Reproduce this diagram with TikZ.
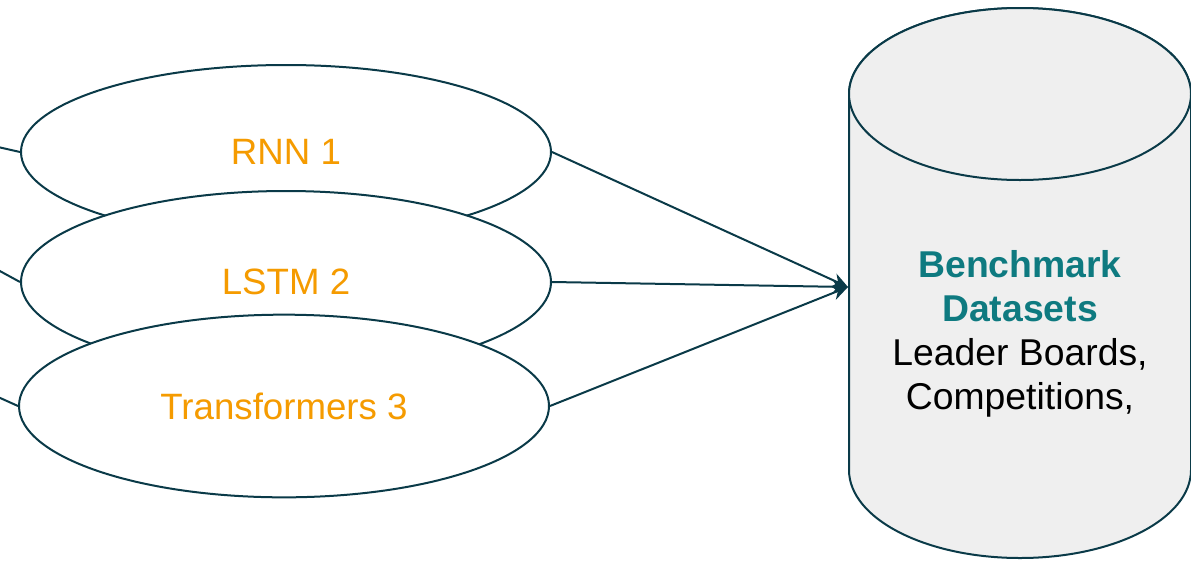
\documentclass[tikz,border=0pt]{standalone}
\usepackage{fontspec}
\setmainfont{Liberation Sans}
\usetikzlibrary{shapes.geometric,arrows.meta}
\definecolor{edgeteal}{RGB}{10,58,72}
\definecolor{modelorange}{RGB}{245,155,0}
\definecolor{headteal}{RGB}{14,122,128}
\definecolor{dbfill}{RGB}{239,239,239}
\tikzset{
  model/.style={ellipse, draw=edgeteal, line width=1.5pt, fill=white, inner sep=0pt,
    minimum width=397.5pt, minimum height=135pt, text=modelorange,
    font=\fontsize{27.5pt}{33pt}\selectfont},
  link/.style={draw=edgeteal, line width=1.5pt},
  feed/.style={link, -{Stealth[length=12pt,width=11pt]}},
  store/.style={fill=dbfill, draw=edgeteal, line width=1.5pt},
}
\begin{document}
\begin{tikzpicture}[x=0.75pt,y=-0.75pt]
  \useasboundingbox (0,0) rectangle (1191,561);

  % database cylinder (y grows downwards, so arcs run with negated angles)
  \path[store]
    (849,94) -- (849,470) arc[start angle=180, end angle=0, x radius=171, y radius=88]
    -- (1191,94) arc[start angle=0, end angle=-180, x radius=171, y radius=86] -- cycle;
  \path[store] (1020,94) ellipse[x radius=171, y radius=86];
  \node[align=center, font=\fontsize{28pt}{33pt}\selectfont] (db) at (1020,334)
    {\textcolor{headteal}{\textbf{Benchmark}}\\\textcolor{headteal}{\textbf{Datasets}}\\Leader Boards,\\Competitions,};
  \coordinate (dbin) at (848,287);

  % model ellipses, each drawn over the previous one
  \node[model, minimum height=130.5pt] (r1) at (286,152) {RNN 1};
  \node[model, minimum height=136.5pt] (r2) at (286,282) {LSTM 2};
  \node[model, minimum height=137pt] (r3) at (284,406) {Transformers 3};

  % incoming lines from the left
  \coordinate (in1) at (-2,147);
  \coordinate (in2) at (-2,270);
  \coordinate (in3) at (-2,397);
  \draw[link] (in1) -- (r1.west);
  \draw[link] (in2) -- (r2.west);
  \draw[link] (in3) -- (r3.west);

  % outputs into the dataset store
  \draw[feed] (r1.east) -- (dbin);
  \draw[feed] (r2.east) -- (dbin);
  \draw[feed] (r3.east) -- (dbin);
\end{tikzpicture}
\end{document}
